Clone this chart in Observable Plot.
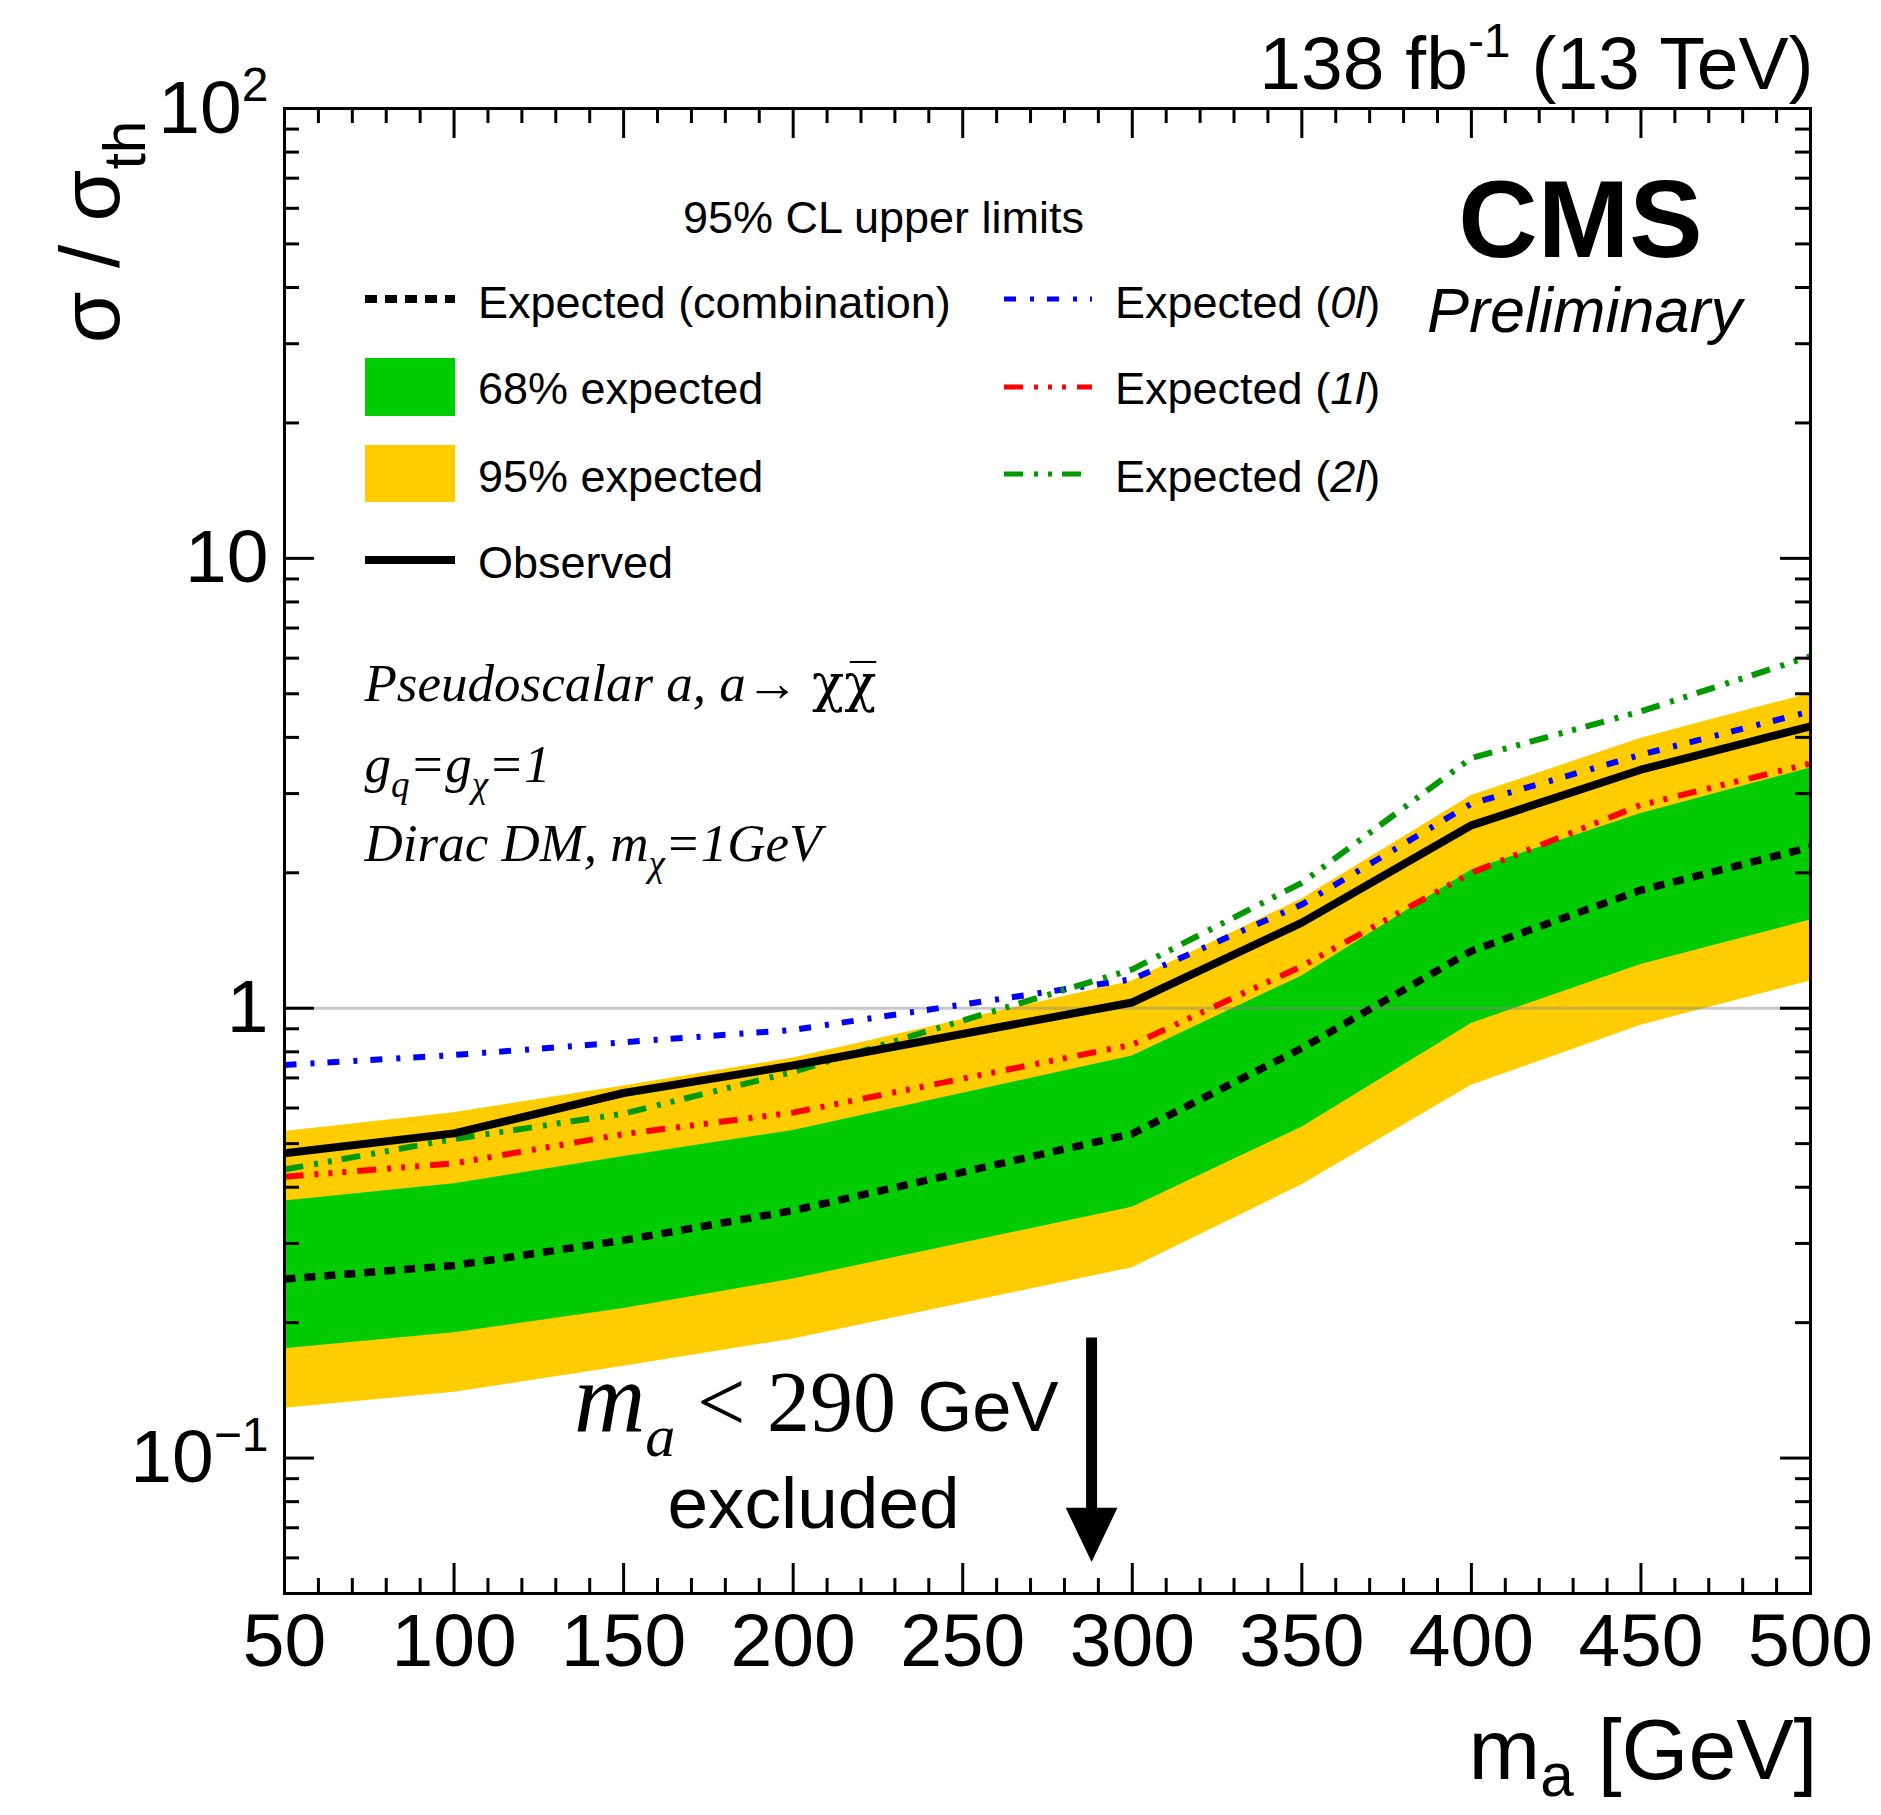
<!DOCTYPE html>
<html>
<head>
<meta charset="utf-8">
<script src="https://cdn.jsdelivr.net/npm/d3@7"></script>
<script src="https://cdn.jsdelivr.net/npm/@observablehq/plot@0.6"></script>
<style>
  html, body { margin: 0; padding: 0; background: #ffffff; }
  #chart svg { display: block; }
</style>
</head>
<body>
<div id="chart"></div>
<script>
// ---------------- data ----------------
const mass           = [50, 100, 150, 200, 300, 350, 400, 450, 500];
const observed       = [0.476, 0.527, 0.648, 0.746, 1.03, 1.55, 2.55, 3.39, 4.23];
const expectedMedian = [0.25, 0.268, 0.305, 0.355, 0.526, 0.815, 1.34, 1.83, 2.28];
const band68Low      = [0.175, 0.19, 0.215, 0.25, 0.361, 0.544, 0.925, 1.25, 1.57];
const band68High     = [0.373, 0.407, 0.468, 0.535, 0.783, 1.18, 2.03, 2.71, 3.42];
const band95Low      = [0.129, 0.14, 0.16, 0.184, 0.265, 0.405, 0.674, 0.917, 1.15];
const band95High     = [0.532, 0.586, 0.672, 0.775, 1.15, 1.75, 2.97, 3.98, 5.01];
const expected0l     = [0.748, 0.787, 0.84, 0.895, 1.16, 1.70, 2.85, 3.66, 4.57];
const expected1l     = [0.422, 0.452, 0.525, 0.586, 0.83, 1.24, 2.0, 2.83, 3.5];
const expected2l     = [0.438, 0.512, 0.583, 0.722, 1.22, 1.9, 3.6, 4.57, 6.06];

// axis ticks and labels
const xMajorTicks = [50, 100, 150, 200, 250, 300, 350, 400, 450, 500];
const xMinorTicks = d3.range(50, 501, 10).filter(v => v % 50 !== 0);
const yMajorTicks = [0.1, 1, 10, 100];
const yTickLabels = ["10^{\u22121}", "1", "10", "10^{2}"];
const yMinorTicks = [0.06, 0.07, 0.08, 0.09,
  0.2, 0.3, 0.4, 0.5, 0.6, 0.7, 0.8, 0.9,
  2, 3, 4, 5, 6, 7, 8, 9,
  20, 30, 40, 50, 60, 70, 80, 90];

// annotation values
const excludedLabelMass = 290;   // quoted exclusion
const arrowMass = 288;           // where the arrow is drawn
const arrowTop = 0.185, arrowHeadBase = 0.076, arrowHeadMid = 0.0675;
const theoryLine = [1];

// texts
const lumiText = "138 fb^{-1} (13 TeV)";
const yTitle = "\u03c3 / \u03c3_{th}";
const xTitle = "m_s{a} [GeV]";
const cmsText = "CMS";
const prelimText = "Preliminary";
const clText = "95% CL upper limits";
const modelLines = ["Pseudoscalar a, a\u2192 #ud{\u03c7\u03c7\u0305}", "g_{q}=g_{\u03c7}=1", "Dirac DM, m_{\u03c7}=1GeV"];
const exclLine1 = "#ib{m}_i{a} < " + excludedLabelMass + " #h{GeV}";
const exclLine2 = "excluded";
const legendCol1Labels = ["Expected (combination)", "68% expected", "95% expected", "Observed"];
const legendCol2Labels = ["Expected (#i{0l})", "Expected (#i{1l})", "Expected (#i{2l})"];

// ---------------- layout / style ----------------
const W = 1881, H = 1815;
const M = {left: 284, right: 71, top: 108, bottom: 222};
const frameW = W - M.left - M.right;
const frameH = H - M.top - M.bottom;
const SANS = "'Liberation Sans', Arial, Helvetica, sans-serif";
const SERIF = "'Liberation Serif', 'Times New Roman', Times, serif";
const DSERIF = "'DejaVu Serif', 'Liberation Serif', serif";
const C = {
  green: "#00cc00", yellow: "#ffcc00",
  blue: "#0000ff", red: "#ff0000", green2: "#009900"
};
const dash = {
  exp: "11,9",
  l0: "12,14,4,13",
  l1: "19,11,4,10,4,10,4,11",
  l2: "19,11,4,10,4,10"
};

const rows = mass.map((m, i) => ({
  mass: m, obs: observed[i], exp: expectedMedian[i],
  lo68: band68Low[i], hi68: band68High[i], lo95: band95Low[i], hi95: band95High[i],
  e0: expected0l[i], e1: expected1l[i], e2: expected2l[i]
}));

const yFmt = d => yTickLabels[yMajorTicks.indexOf(d)];

// baseline B (px) -> dy offset from frame top for a middle-anchored text of size fs
const dyTop = (B, fs) => B - M.top - 0.32 * fs;

const headSymbol = {
  draw(ctx, size) {
    const r = Math.sqrt(size / Math.PI);
    ctx.moveTo(-r * 1.1, -r * 1.15);
    ctx.lineTo(r * 1.1, -r * 1.15);
    ctx.lineTo(0, r * 1.15);
    ctx.closePath();
  }
};

const lineOpts = {x: "mass", curve: "linear", strokeLinecap: "butt", strokeLinejoin: "miter"};
const T = {text: d => d, lineAnchor: "middle"};

const chart = Plot.plot({
  width: W, height: H,
  marginLeft: M.left, marginRight: M.right, marginTop: M.top, marginBottom: M.bottom,
  style: {fontFamily: SANS, background: "white", color: "black", fontSize: "45px"},
  x: {domain: [50, 500]},
  y: {type: "log", domain: [0.05, 100]},
  marks: [
    Plot.areaY(rows, {x: "mass", y1: "lo95", y2: "hi95", fill: C.yellow}),
    Plot.areaY(rows, {x: "mass", y1: "lo68", y2: "hi68", fill: C.green}),
    Plot.ruleY(theoryLine, {y: d => d, stroke: "#888", strokeOpacity: 0.45, strokeWidth: 3}),
    Plot.lineY(rows, {...lineOpts, y: "exp", stroke: "black", strokeWidth: 7.5, strokeDasharray: dash.exp}),
    Plot.lineY(rows, {...lineOpts, y: "e0", stroke: C.blue, strokeWidth: 6, strokeDasharray: dash.l0}),
    Plot.lineY(rows, {...lineOpts, y: "e1", stroke: C.red, strokeWidth: 6, strokeDasharray: dash.l1}),
    Plot.lineY(rows, {...lineOpts, y: "e2", stroke: C.green2, strokeWidth: 6, strokeDasharray: dash.l2}),
    Plot.lineY(rows, {...lineOpts, y: "obs", stroke: "black", strokeWidth: 8}),

    // ROOT style inward ticks on all four sides
    Plot.tickX(xMajorTicks, {x: d => d, insetTop: frameH - 30, stroke: "black", strokeWidth: 3}),
    Plot.tickX(xMinorTicks, {x: d => d, insetTop: frameH - 15, stroke: "black", strokeWidth: 3}),
    Plot.tickX(xMajorTicks, {x: d => d, insetBottom: frameH - 30, stroke: "black", strokeWidth: 3}),
    Plot.tickX(xMinorTicks, {x: d => d, insetBottom: frameH - 15, stroke: "black", strokeWidth: 3}),
    Plot.tickY(yMajorTicks, {y: d => d, insetRight: frameW - 30, stroke: "black", strokeWidth: 3}),
    Plot.tickY(yMinorTicks, {y: d => d, insetRight: frameW - 15, stroke: "black", strokeWidth: 3}),
    Plot.tickY(yMajorTicks, {y: d => d, insetLeft: frameW - 30, stroke: "black", strokeWidth: 3}),
    Plot.tickY(yMinorTicks, {y: d => d, insetLeft: frameW - 15, stroke: "black", strokeWidth: 3}),
    Plot.frame({stroke: "black", strokeWidth: 3}),

    Plot.axisX({anchor: "bottom", ticks: xMajorTicks, tickSize: 0, tickPadding: 19, fontSize: 75, label: null, fontFamily: SANS}),
    Plot.axisY({anchor: "left", ticks: yMajorTicks, tickFormat: yFmt, tickSize: 0, tickPadding: 16, fontSize: 75, label: null, fontFamily: SANS}),

    // titles
    Plot.text([lumiText], {...T, frameAnchor: "top-right", textAnchor: "end", dx: 3, dy: dyTop(88, 75), fontSize: 75}),
    Plot.text([yTitle], {...T, frameAnchor: "top-left", textAnchor: "end", rotate: -90, dx: 92 - M.left, dy: 120 - M.top, fontSize: 84}),
    Plot.text([xTitle], {...T, frameAnchor: "top-right", textAnchor: "end", dx: 7, dy: dyTop(1778, 86), fontSize: 86}),

    // CMS labels
    Plot.text([cmsText], {...T, frameAnchor: "top-left", textAnchor: "middle", dx: 1580 - M.left, dy: dyTop(256, 110), fontSize: 110, fontWeight: "bold"}),
    Plot.text([prelimText], {...T, frameAnchor: "top-left", textAnchor: "middle", dx: 1584 - M.left, dy: dyTop(331, 63), fontSize: 63, fontStyle: "italic"}),
    Plot.text([clText], {...T, frameAnchor: "top-left", textAnchor: "middle", dx: 883 - M.left, dy: dyTop(232, 45), fontSize: 45}),

    // model description
    Plot.text([modelLines[0]], {...T, frameAnchor: "top-left", textAnchor: "start", dx: 364 - M.left, dy: dyTop(700, 53), fontSize: 53, fontFamily: SERIF, fontStyle: "italic"}),
    Plot.text([modelLines[1]], {...T, frameAnchor: "top-left", textAnchor: "start", dx: 364 - M.left, dy: dyTop(781, 53), fontSize: 53, fontFamily: SERIF, fontStyle: "italic"}),
    Plot.text([modelLines[2]], {...T, frameAnchor: "top-left", textAnchor: "start", dx: 364 - M.left, dy: dyTop(860, 53), fontSize: 53, fontFamily: SERIF, fontStyle: "italic"}),

    // exclusion annotation
    Plot.text([exclLine1], {...T, frameAnchor: "top-left", textAnchor: "end", dx: 1058 - M.left, dy: dyTop(1430, 86), fontSize: 86, fontFamily: SERIF}),
    Plot.text([exclLine2], {...T, frameAnchor: "top-left", textAnchor: "middle", dx: 813 - M.left, dy: dyTop(1527, 73), fontSize: 73}),
    Plot.ruleX([arrowMass], {x: d => d, y1: arrowTop, y2: arrowHeadBase, stroke: "black", strokeWidth: 11}),
    Plot.dot([arrowMass], {x: d => d, y: arrowHeadMid, r: 23.5, symbol: headSymbol, fill: "black", stroke: "none"})
  ]
});

document.getElementById("chart").append(chart);

// ---------------- legend (inside the frame) ----------------
const svg = d3.select(chart);
const lg = svg.append("g").attr("aria-label", "legend").attr("text-anchor", "start");
const L = {
  symX1: 365, symX2: 455, textX: 478,
  sym2X1: 1004, sym2X2: 1092, text2X: 1115,
  rowText: [318, 404, 492, 578], rowSym: [299, 387, 474, 560],
  box: [[358, 416], [445, 502]], fs: 45
};
// column 1
lg.append("line").attr("x1", L.symX1).attr("x2", L.symX2).attr("y1", L.rowSym[0]).attr("y2", L.rowSym[0])
  .attr("stroke", "black").attr("stroke-width", 8).attr("stroke-dasharray", "12,8");
lg.append("rect").attr("x", L.symX1).attr("width", L.symX2 - L.symX1).attr("y", L.box[0][0]).attr("height", L.box[0][1] - L.box[0][0]).attr("fill", C.green);
lg.append("rect").attr("x", L.symX1).attr("width", L.symX2 - L.symX1).attr("y", L.box[1][0]).attr("height", L.box[1][1] - L.box[1][0]).attr("fill", C.yellow);
lg.append("line").attr("x1", L.symX1).attr("x2", L.symX2).attr("y1", L.rowSym[3]).attr("y2", L.rowSym[3])
  .attr("stroke", "black").attr("stroke-width", 8);
legendCol1Labels.forEach((t, i) => {
  lg.append("text").attr("x", L.textX).attr("y", L.rowText[i]).attr("font-size", L.fs)
    .attr("font-family", SANS).attr("text-anchor", "start").attr("fill", "black").text(t);
});
// column 2
const col2Style = [[C.blue, dash.l0], [C.red, dash.l1], [C.green2, dash.l2]];
legendCol2Labels.forEach((t, i) => {
  lg.append("line").attr("x1", L.sym2X1).attr("x2", L.sym2X2).attr("y1", L.rowSym[i]).attr("y2", L.rowSym[i])
    .attr("stroke", col2Style[i][0]).attr("stroke-width", 5).attr("stroke-dasharray", col2Style[i][1]);
  lg.append("text").attr("x", L.text2X).attr("y", L.rowText[i]).attr("font-size", L.fs)
    .attr("font-family", SANS).attr("text-anchor", "start").attr("fill", "black").text(t);
});

// ---------------- rich text: sub/superscripts, italics, font switches ----------------
// markup: _{..} subscript, _s{..} shallow subscript, ^{..} superscript,
// #i{..} italic, #u{..} upright, #b{..} bigger, #h{..} sans & smaller, #d{..} DejaVu Serif
function richify(root) {
  const NS = "http://www.w3.org/2000/svg";
  root.querySelectorAll("text").forEach(t => {
    if (t.querySelector("tspan")) return;
    const s = t.textContent;
    if (!/[_^#][a-z]*\{/.test(s)) return;
    const fs = parseFloat(getComputedStyle(t).fontSize);
    const dyAttr = t.getAttribute("dy");
    let base = 0;
    if (dyAttr) base = dyAttr.endsWith("em") ? parseFloat(dyAttr) * fs : parseFloat(dyAttr);
    t.removeAttribute("dy");
    t.textContent = "";
    let shift = -base, first = true;
    const add = (str, kind, flags) => {
      if (!str) return;
      const ts = document.createElementNS(NS, "tspan");
      let target = 0, size = null;
      if (kind === "_") { target = (flags.includes("s") ? 0.2 : 0.3) * fs; size = 0.7 * fs; }
      if (kind === "^") { target = -0.42 * fs; size = 0.64 * fs; }
      if (first || target - shift !== 0) ts.setAttribute("dy", target - shift);
      shift = target; first = false;
      if (flags.includes("h")) { ts.setAttribute("font-family", SANS); size = (size || fs) * 0.82; ts.setAttribute("font-style", "normal"); }
      if (flags.includes("d")) ts.setAttribute("font-family", DSERIF);
      if (flags.includes("b")) size = (size || fs) * 1.15;
      if (size) ts.setAttribute("font-size", size);
      if (flags.includes("i")) ts.setAttribute("font-style", "italic");
      if (flags.includes("u")) ts.setAttribute("font-style", "normal");
      ts.textContent = str;
      t.appendChild(ts);
    };
    const re = /([_^#])([a-z]*)\{([^}]*)\}/g;
    let last = 0, m;
    while ((m = re.exec(s))) {
      add(s.slice(last, m.index), "", "");
      add(m[3], m[1] === "#" ? "" : m[1], m[2]);
      last = re.lastIndex;
    }
    add(s.slice(last), "", "");
  });
}
richify(chart);
</script>
</body>
</html>
